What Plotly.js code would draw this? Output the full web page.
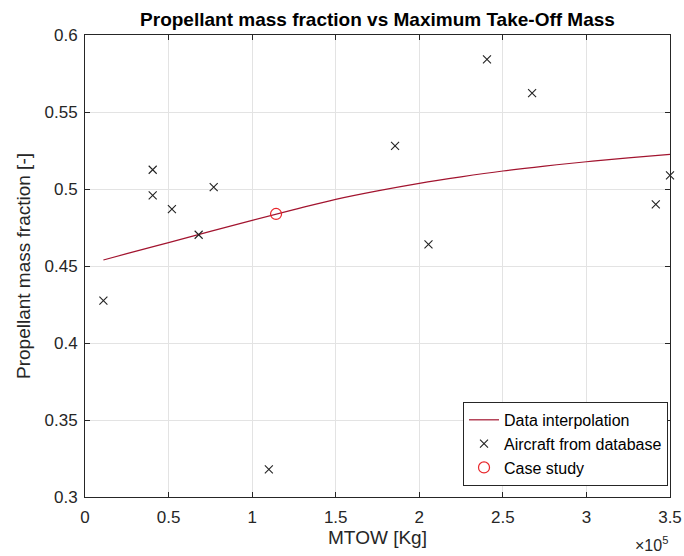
<!DOCTYPE html>
<html>
<head>
<meta charset="utf-8">
<script src="https://cdn.plot.ly/plotly-3.0.1.min.js"></script>
<style>
  html, body { margin: 0; padding: 0; background: #fff; }
  #chart { width: 684px; height: 556px; }
</style>
</head>
<body>
<div id="chart"></div>
<script>
// Aircraft database: MTOW [kg] and propellant mass fraction [-]
const aircraftMTOW = [11000, 40500, 40500, 52000, 68000, 77000, 110000, 185500, 205500, 240500, 267500, 341500, 350000];
const aircraftFraction = [0.4275, 0.5125, 0.4958, 0.4870, 0.4703, 0.5012, 0.3180, 0.5280, 0.4641, 0.5842, 0.5623, 0.4900, 0.5088];

// Interpolating curve through the database
const fitMTOW = [11000, 25000, 50000, 75000, 100000, 125000, 150000, 175000, 200000, 225000, 250000, 275000, 300000, 325000, 350000];
const fitFraction = [0.4539, 0.4580, 0.4652, 0.4725, 0.4796, 0.4866, 0.4933, 0.4988, 0.5037, 0.5079, 0.5117, 0.5149, 0.5177, 0.5202, 0.5225];

// Case study aircraft
const caseMTOW = [114300];
const caseFraction = [0.4838];

// Axis ticks
const xTickVals = [0, 50000, 100000, 150000, 200000, 250000, 300000, 350000];
const xTickText = ['0', '0.5', '1', '1.5', '2', '2.5', '3', '3.5'];
const yTickVals = [0.3, 0.35, 0.4, 0.45, 0.5, 0.55, 0.6];
const yTickText = ['0.3', '0.35', '0.4', '0.45', '0.5', '0.55', '0.6'];

const FONT = 'Liberation Sans, Arial, Helvetica, sans-serif';
const TEXT = '#262626';

const traces = [
  {
    x: fitMTOW, y: fitFraction,
    type: 'scatter', mode: 'lines',
    name: 'Data interpolation',
    line: { color: '#a2142f', width: 1.2, shape: 'spline' }
  },
  {
    x: aircraftMTOW, y: aircraftFraction,
    type: 'scatter', mode: 'markers',
    name: 'Aircraft from database',
    marker: { symbol: 'x-thin-open', size: 8, color: '#222', line: { color: '#222', width: 1.1 } },
    cliponaxis: false
  },
  {
    x: caseMTOW, y: caseFraction,
    type: 'scatter', mode: 'markers',
    name: 'Case study',
    marker: { symbol: 'circle-open', size: 11, color: '#e8262b', line: { color: '#e8262b', width: 1.2 } }
  }
];

const axisCommon = {
  showline: true, mirror: 'ticks', linecolor: '#262626', linewidth: 1,
  ticks: 'inside', ticklen: 5, tickcolor: '#262626', tickwidth: 1,
  showgrid: true, gridcolor: '#e3e3e3', gridwidth: 1,
  zeroline: false,
  tickfont: { family: FONT, size: 17, color: TEXT },
  fixedrange: true
};

const layout = {
  width: 684, height: 556,
  paper_bgcolor: '#ffffff', plot_bgcolor: '#ffffff',
  margin: { l: 85, r: 14, t: 35, b: 59 },
  font: { family: FONT, color: TEXT },
  title: {
    text: '<b>Propellant mass fraction vs Maximum Take-Off Mass</b>',
    font: { family: FONT, size: 19, color: '#000' },
    xref: 'paper', x: 0.5, xanchor: 'center',
    yref: 'container', y: 0.966, yanchor: 'middle'
  },
  xaxis: Object.assign({}, axisCommon, {
    range: [0, 350000],
    tickvals: xTickVals, ticktext: xTickText,
    ticklabelstandoff: 5,
    title: { text: 'MTOW [Kg]', font: { family: FONT, size: 19, color: TEXT }, standoff: 4 }
  }),
  yaxis: Object.assign({}, axisCommon, {
    range: [0.3, 0.6],
    tickvals: yTickVals, ticktext: yTickText,
    ticklabelstandoff: 3,
    title: { text: 'Propellant mass fraction [-]', font: { family: FONT, size: 19, color: TEXT }, standoff: 8 }
  }),
  legend: {
    x: 0.9966, xanchor: 'right', y: 0.024, yanchor: 'bottom',
    bgcolor: '#ffffff', bordercolor: '#262626', borderwidth: 1,
    font: { family: FONT, size: 16, color: '#000' },
    tracegroupgap: 0, itemwidth: 30,
    entrywidthmode: 'pixels', entrywidth: 238
  },
  annotations: [
    {
      text: '×10<sup>5</sup>', xref: 'paper', yref: 'paper',
      x: 1.0, xanchor: 'right', y: -0.102, yanchor: 'middle',
      showarrow: false, font: { family: FONT, size: 16, color: TEXT }
    }
  ],
  showlegend: true
};

Plotly.newPlot('chart', traces, layout, { displayModeBar: false, staticPlot: true });
</script>
</body>
</html>
